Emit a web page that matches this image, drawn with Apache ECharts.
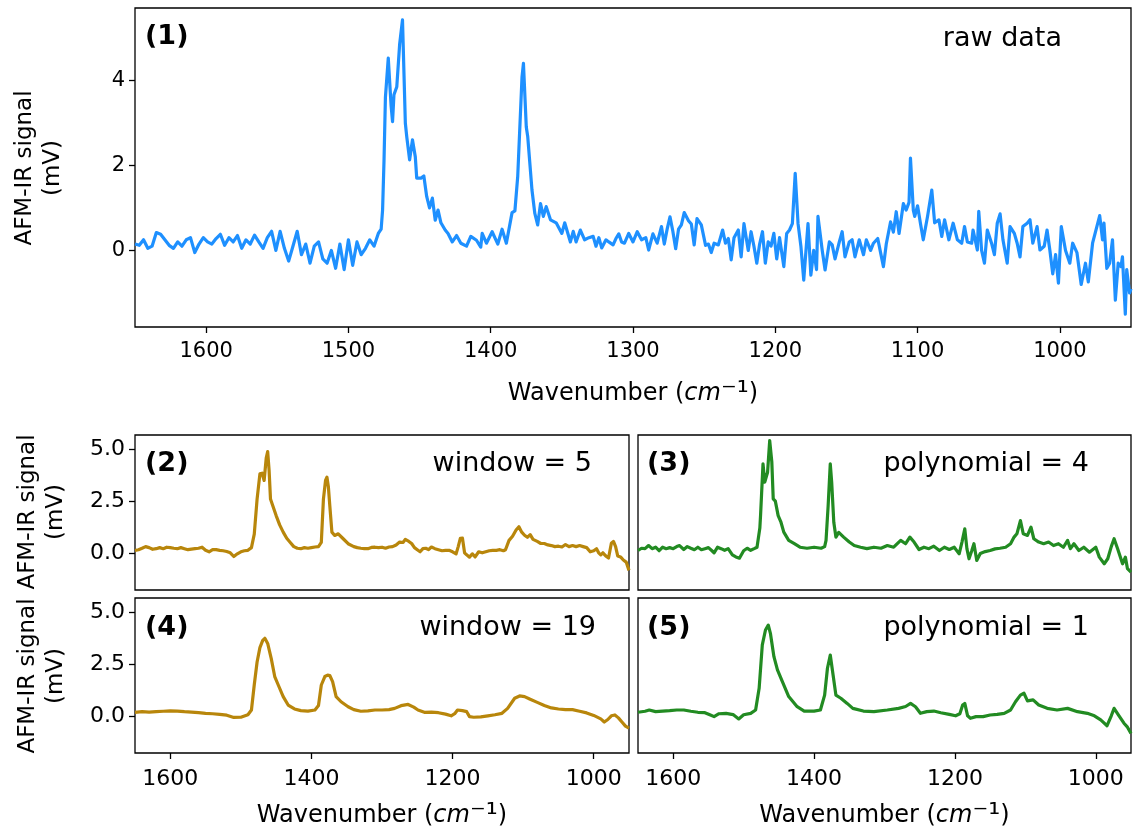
<!DOCTYPE html>
<html><head><meta charset="utf-8">
<script src="https://cdn.jsdelivr.net/npm/echarts@6.0.0/dist/echarts.min.js"></script>
<style>html,body{margin:0;padding:0;background:#fff}#c{width:1134px;height:836px}</style>
</head><body><div id="c"></div>
<script>
// ---------- data (wavenumber cm^-1, signal mV) ----------
const rawData = [
[1650,0.15],[1647,0.12],[1644,0.25],[1641,0.05],[1638,0.1],[1635,0.42],[1632,0.38],[1629,0.25],[1626,0.12],[1623,0.05],
[1620,0.2],[1617,0.1],[1614,0.25],[1611,0.3],[1608,-0.05],[1605,0.15],[1602,0.3],[1599,0.2],[1596,0.15],[1593,0.28],
[1590,0.38],[1587,0.12],[1584,0.3],[1581,0.2],[1578,0.35],[1575,0.05],[1572,0.25],[1569,0.15],[1566,0.36],[1563,0.2],
[1560,0.05],[1557,0.3],[1554,0.45],[1551,0.0],[1548,0.45],[1545,0.05],[1542,-0.25],[1539,0.1],[1536,0.45],[1533,-0.1],
[1530,0.15],[1527,-0.3],[1524,0.1],[1521,0.2],[1518,-0.2],[1515,-0.3],[1512,0.0],[1509,-0.42],[1506,0.15],[1503,-0.45],
[1500,0.25],[1497,-0.35],[1494,0.2],[1491,-0.1],[1488,0.05],[1485,0.25],[1482,0.1],[1479,0.4],[1477,0.5],[1476,0.95],
[1475,2.1],[1474,3.6],[1472,4.52],[1470,3.4],[1469,3.03],[1468,3.66],[1466,3.85],[1464,4.85],[1462,5.42],[1460,2.99],
[1459,2.67],[1457,2.13],[1455,2.6],[1453,2.2],[1452,1.7],[1449,1.7],[1447,1.75],[1445,1.27],[1443,1.0],[1441,1.23],
[1439,0.71],[1437,0.95],[1435,0.65],[1432,0.48],[1430,0.4],[1427,0.2],[1424,0.35],[1421,0.17],[1417,0.1],[1414,0.33],
[1410,0.24],[1407,0.08],[1406,0.4],[1403,0.17],[1399,0.44],[1395,0.15],[1392,0.5],[1389,0.17],[1385,0.89],[1383,0.93],
[1381,1.75],[1378,4.08],[1377,4.4],[1375,2.9],[1374,2.68],[1371,1.42],[1369,0.87],[1367,0.6],[1365,1.1],[1363,0.8],
[1361,1.03],[1358,0.72],[1354,0.65],[1350,0.4],[1348,0.65],[1344,0.2],[1342,0.45],[1340,0.2],[1337,0.48],[1334,0.25],
[1331,0.3],[1328,0.33],[1326,0.1],[1324,0.3],[1322,0.06],[1319,0.25],[1317,0.2],[1314,0.13],[1312,0.28],[1310,0.39],
[1308,0.2],[1306,0.17],[1303,0.4],[1300,0.2],[1297,0.44],[1294,0.25],[1291,0.3],[1289,0.01],[1286,0.39],[1283,0.17],
[1280,0.56],[1278,0.15],[1276,0.5],[1274,0.79],[1272,0.45],[1270,0.04],[1268,0.5],[1266,0.6],[1264,0.89],[1261,0.7],
[1259,0.62],[1257,0.13],[1255,0.75],[1252,0.6],[1249,0.12],[1247,0.15],[1245,-0.05],[1243,0.17],[1240,0.13],[1237,0.48],
[1235,0.17],[1233,0.28],[1231,-0.22],[1229,0.3],[1226,0.48],[1224,-0.15],[1222,0.63],[1219,0.0],[1217,0.44],[1215,0.1],
[1213,-0.3],[1211,0.15],[1209,0.44],[1207,-0.3],[1205,0.2],[1203,0.1],[1201,0.4],[1199,-0.2],[1197,0.3],[1194,-0.38],
[1192,0.4],[1190,0.48],[1188,0.63],[1186,1.81],[1184,0.63],[1182,0.1],[1180,-0.7],[1177,0.63],[1175,-0.58],[1173,0.0],
[1171,-0.45],[1170,0.8],[1167,0.0],[1165,-0.46],[1162,0.2],[1160,0.13],[1158,-0.2],[1155,0.2],[1153,0.44],[1151,-0.15],
[1148,0.2],[1146,0.25],[1144,-0.15],[1141,0.25],[1138,-0.1],[1136,0.25],[1133,0.0],[1131,0.17],[1128,0.28],[1126,-0.05],
[1124,-0.38],[1122,0.15],[1119,0.67],[1117,0.43],[1115,0.91],[1113,0.4],[1110,1.1],[1108,0.95],[1106,1.13],[1105,2.17],
[1103,0.95],[1102,0.8],[1100,1.05],[1098,0.64],[1096,0.25],[1093,0.8],[1090,1.42],[1088,0.65],[1085,0.72],[1083,0.33],
[1081,0.72],[1078,0.25],[1075,0.64],[1072,0.25],[1069,0.17],[1067,0.56],[1065,0.2],[1062,0.17],[1061,0.48],[1058,0.01],
[1057,0.92],[1055,0.0],[1053,-0.3],[1051,0.48],[1048,0.17],[1046,-0.1],[1044,0.64],[1042,0.86],[1040,0.25],[1037,-0.3],
[1035,0.56],[1032,0.4],[1030,0.17],[1028,-0.15],[1026,0.56],[1023,0.64],[1021,0.72],[1019,0.17],[1016,0.56],[1014,0.01],
[1011,0.1],[1009,0.48],[1007,0.0],[1005,-0.55],[1003,-0.1],[1001,-0.77],[999,0.56],[996,0.0],[993,-0.3],[991,0.17],
[988,-0.05],[985,-0.8],[982,-0.3],[980,-0.74],[977,0.17],[974,0.56],[972,0.82],[970,0.25],[969,0.64],[967,-0.42],
[965,-0.3],[963,0.25],[961,-1.17],[959,-0.3],[957,-0.38],[956,-0.15],[954,-1.5],[953,-0.45],[951,-1.0],[950,-0.9]
];
const window5 = [
[1650,0.11],[1645,0.15],[1640,0.22],[1635,0.3],[1630,0.25],[1625,0.17],[1620,0.2],[1615,0.25],[1610,0.2],[1605,0.27],
[1600,0.25],[1595,0.22],[1590,0.2],[1585,0.25],[1580,0.2],[1575,0.15],[1570,0.18],[1565,0.2],[1560,0.22],[1555,0.27],
[1550,0.12],[1545,0.05],[1540,0.15],[1535,0.15],[1530,0.12],[1525,0.1],[1520,0.06],[1515,0.0],[1510,-0.18],[1505,-0.05],
[1500,0.05],[1495,0.1],[1490,0.12],[1485,0.25],[1481,0.9],[1477,2.6],[1473,3.82],[1470,3.85],[1467,3.5],[1464,4.6],
[1462,4.9],[1460,4.0],[1458,2.6],[1455,2.3],[1450,1.8],[1445,1.35],[1440,1.0],[1435,0.7],[1430,0.5],[1425,0.3],
[1420,0.22],[1415,0.2],[1410,0.25],[1405,0.22],[1400,0.25],[1395,0.28],[1390,0.3],[1386,0.5],[1383,2.6],[1380,3.5],
[1378,3.66],[1376,3.2],[1374,2.29],[1371,1.0],[1367,0.84],[1362,0.92],[1355,0.68],[1348,0.44],[1340,0.3],[1335,0.25],
[1330,0.22],[1325,0.2],[1320,0.2],[1315,0.26],[1310,0.27],[1305,0.25],[1300,0.27],[1295,0.22],[1290,0.28],[1285,0.3],
[1280,0.38],[1275,0.52],[1270,0.5],[1267,0.65],[1262,0.55],[1258,0.45],[1254,0.25],[1250,0.15],[1246,0.05],[1242,0.2],
[1238,0.22],[1234,0.15],[1230,0.28],[1225,0.2],[1220,0.15],[1215,0.1],[1210,0.12],[1205,0.12],[1200,0.05],[1195,-0.05],
[1192,0.3],[1189,0.7],[1186,0.71],[1183,0.0],[1180,-0.1],[1176,-0.21],[1172,-0.05],[1168,-0.2],[1163,0.05],[1158,0.0],
[1153,0.05],[1148,0.1],[1143,0.12],[1138,0.12],[1133,0.15],[1128,0.1],[1125,0.15],[1120,0.6],[1115,0.8],[1110,1.1],
[1106,1.26],[1102,1.0],[1098,0.85],[1094,0.75],[1090,0.88],[1086,0.65],[1080,0.55],[1075,0.45],[1070,0.45],[1065,0.38],
[1060,0.35],[1055,0.3],[1050,0.32],[1045,0.28],[1040,0.4],[1035,0.3],[1030,0.35],[1025,0.3],[1020,0.35],[1015,0.3],
[1010,0.25],[1005,0.05],[1000,0.1],[996,0.2],[993,0.0],[990,-0.1],[987,0.0],[983,-0.15],[979,-0.25],[975,0.46],
[972,0.55],[969,0.3],[966,-0.15],[962,-0.2],[958,-0.35],[954,-0.45],[950,-0.85]
];
const window19 = [
[1650,0.17],[1640,0.2],[1630,0.18],[1620,0.2],[1610,0.22],[1600,0.24],[1590,0.23],[1580,0.2],[1570,0.18],[1560,0.15],
[1550,0.12],[1540,0.1],[1530,0.07],[1520,0.03],[1510,-0.08],[1500,-0.07],[1490,0.05],[1485,0.28],[1481,1.5],[1477,2.6],
[1473,3.3],[1469,3.65],[1466,3.75],[1462,3.5],[1457,2.78],[1452,1.9],[1447,1.49],[1440,0.93],[1433,0.52],[1424,0.33],
[1415,0.25],[1405,0.23],[1395,0.28],[1390,0.5],[1386,1.49],[1381,1.9],[1377,1.97],[1374,1.95],[1370,1.65],[1365,0.93],
[1358,0.68],[1348,0.44],[1340,0.3],[1330,0.22],[1320,0.24],[1310,0.28],[1300,0.28],[1290,0.3],[1282,0.36],[1273,0.49],
[1263,0.55],[1255,0.42],[1249,0.28],[1240,0.17],[1230,0.18],[1220,0.15],[1210,0.08],[1202,0.0],[1197,0.1],[1193,0.28],
[1186,0.25],[1180,0.2],[1176,-0.04],[1170,-0.07],[1160,-0.05],[1150,0.0],[1140,0.05],[1130,0.12],[1122,0.36],[1112,0.85],
[1105,0.96],[1098,0.93],[1090,0.8],[1080,0.65],[1070,0.5],[1060,0.38],[1050,0.33],[1040,0.3],[1030,0.3],[1020,0.22],
[1010,0.14],[1000,0.02],[990,-0.15],[985,-0.3],[980,-0.18],[975,0.0],[970,0.04],[965,-0.1],[960,-0.3],[955,-0.5],[950,-0.6]
];
const poly4 = [
[1650,0.11],[1645,0.22],[1640,0.2],[1635,0.35],[1630,0.2],[1625,0.27],[1620,0.1],[1615,0.27],[1610,0.2],[1605,0.25],
[1600,0.2],[1595,0.3],[1591,0.35],[1585,0.16],[1580,0.3],[1575,0.22],[1570,0.15],[1565,0.27],[1560,0.15],[1555,0.2],
[1550,0.25],[1545,0.1],[1542,0.0],[1537,0.27],[1532,0.2],[1527,0.12],[1522,0.2],[1516,-0.1],[1511,-0.2],[1506,-0.26],
[1500,0.1],[1495,0.22],[1490,0.12],[1485,0.2],[1481,0.27],[1477,1.2],[1476,1.8],[1472.5,4.3],[1470,3.42],[1466,3.9],
[1463,5.43],[1460,4.4],[1458,2.61],[1455,2.5],[1451,1.8],[1447,1.48],[1443,1.0],[1436,0.6],[1428,0.44],[1420,0.27],
[1410,0.22],[1400,0.27],[1390,0.22],[1385,0.3],[1383,0.6],[1380,2.29],[1377,4.3],[1375,3.42],[1372,1.48],[1369,0.76],
[1365,0.99],[1358,0.76],[1350,0.52],[1343,0.35],[1334,0.27],[1325,0.2],[1315,0.27],[1305,0.22],[1296,0.35],[1287,0.27],
[1277,0.6],[1270,0.44],[1264,0.76],[1258,0.52],[1251,0.16],[1244,0.27],[1237,0.2],[1230,0.32],[1222,0.11],[1215,0.27],
[1208,0.16],[1201,0.27],[1194,-0.05],[1190,0.52],[1186,1.16],[1183,0.2],[1180,-0.29],[1176,0.11],[1173,0.44],[1169,-0.37],
[1164,-0.03],[1157,0.06],[1150,0.11],[1143,0.19],[1136,0.22],[1128,0.27],[1121,0.44],[1116,0.76],[1112,0.92],[1107,1.56],
[1103,0.92],[1097,0.84],[1092,1.24],[1088,0.68],[1081,0.52],[1074,0.44],[1067,0.52],[1060,0.35],[1053,0.44],[1046,0.27],
[1040,0.6],[1036,0.2],[1031,0.44],[1024,0.11],[1017,0.27],[1009,0.03],[1000,0.27],[995,-0.21],[988,-0.53],[983,-0.29],
[978,0.3],[974,0.68],[969,0.2],[962,-0.53],[958,-0.21],[955,-0.77],[950,-0.94]
];
const poly1 = [
[1650,0.17],[1640,0.22],[1634,0.28],[1625,0.2],[1615,0.23],[1605,0.25],[1595,0.28],[1585,0.28],[1575,0.22],[1565,0.17],
[1555,0.15],[1548,0.05],[1542,-0.04],[1535,0.1],[1525,0.12],[1515,0.06],[1507,-0.15],[1500,0.05],[1490,0.12],[1483,0.28],
[1478,1.33],[1473.5,3.43],[1469,4.15],[1465,4.39],[1462,3.99],[1457,2.86],[1452,2.22],[1445,1.65],[1436,0.93],[1424,0.44],
[1414,0.23],[1400,0.23],[1391,0.28],[1385,1.0],[1381,2.3],[1377,2.94],[1373,1.97],[1369,1.0],[1362,0.85],[1353,0.6],
[1345,0.36],[1330,0.23],[1315,0.2],[1296,0.28],[1280,0.36],[1270,0.45],[1263,0.6],[1256,0.44],[1249,0.12],[1240,0.2],
[1230,0.23],[1220,0.15],[1208,0.07],[1199,0.0],[1193,0.1],[1189,0.52],[1186,0.6],[1182,0.0],[1178,-0.12],[1170,-0.04],
[1160,-0.04],[1150,0.04],[1140,0.07],[1130,0.12],[1121,0.28],[1114,0.68],[1107,1.0],[1102,1.09],[1097,0.72],[1089,0.77],
[1081,0.52],[1069,0.36],[1055,0.28],[1040,0.36],[1026,0.2],[1012,0.12],[1002,0.0],[993,-0.2],[984,-0.48],[978,0.0],
[974,0.36],[967,0.0],[960,-0.36],[955,-0.55],[950,-0.85]
];
const xTicksTop = [1000,1100,1200,1300,1400,1500,1600];
const xTicksBottom = [1000,1200,1400,1600];
const yTicksTop = [0,2,4];
const yTicksBottom = [0,2.5,5];
const panelTags = ['(1)','(2)','(3)','(4)','(5)'];
const panelNotes = ['raw data','window = 5','polynomial = 4','window = 19','polynomial = 1'];

// ---------- chart ----------
const FONT = '"DejaVu Sans", sans-serif';
const BLUE = '#1e90ff', GOLD = '#b8860b', GREEN = '#228b22';
const grids = [
  {left:135, top:8,   width:996, height:319},
  {left:135, top:435, width:494, height:155},
  {left:638, top:435, width:493, height:155},
  {left:135, top:598, width:494, height:155},
  {left:638, top:598, width:493, height:155}
].map(g => Object.assign({show:true, borderColor:'#000', borderWidth:1.3, backgroundColor:'#fff'}, g));

const xName = {
  name: 'Wavenumber ({i|cm}{s|⁻¹})',
  nameLocation: 'middle',
  nameTextStyle: {fontFamily: FONT, fontSize: 24, color: '#000',
    rich: {i: {fontFamily: FONT, fontSize: 24, fontStyle: 'italic', color:'#000'},
           s: {fontFamily: FONT, fontSize: 30, color:'#000'}}}
};
function mkX(gi, ticks, showTicks, showLabels, withName, gap, fs, margin) {
  const a = {
    type:'value', gridIndex:gi, min:950, max:1650, inverse:true,
    axisLine:{show:false, onZero:false}, splitLine:{show:false},
    axisTick:{show:showTicks, inside:false, length:6, lineStyle:{color:'#000', width:1.3}, customValues:ticks},
    axisLabel:{show:showLabels, customValues:ticks, margin:margin, color:'#000', fontFamily:FONT, fontSize:fs,
               formatter: v => String(v)}
  };
  if (withName) Object.assign(a, xName, {nameGap: gap});
  return a;
}
function mkY(gi, ticks, showTicks, showLabels, fs, fmt) {
  return {
    type:'value', gridIndex:gi, min:-1.8, max:5.7,
    axisLine:{show:false, onZero:false}, splitLine:{show:false},
    axisTick:{show:showTicks, inside:false, length:6, lineStyle:{color:'#000', width:1.3}, customValues:ticks},
    axisLabel:{show:showLabels, customValues:ticks, margin:10, color:'#000', fontFamily:FONT, fontSize:fs, formatter:fmt}
  };
}
const fmt1 = v => Number(v).toFixed(1);
const fmt0 = v => String(v);

const xAxes = [
  mkX(0, xTicksTop, true, true, true, 52, 21, 14),
  mkX(1, xTicksBottom, false, false, false, 0, 22, 14),
  mkX(2, xTicksBottom, false, false, false, 0, 22, 14),
  mkX(3, xTicksBottom, true, true, true, 48, 22, 15),
  mkX(4, xTicksBottom, true, true, true, 48, 22, 15)
];
const yAxes = [
  mkY(0, yTicksTop, true, true, 21, fmt0),
  mkY(1, yTicksBottom, true, true, 22, fmt1),
  mkY(2, yTicksBottom, false, false, 22, fmt1),
  mkY(3, yTicksBottom, true, true, 22, fmt1),
  mkY(4, yTicksBottom, false, false, 22, fmt1)
];
function mkSeries(i, data, color, w) {
  return {type:'line', xAxisIndex:i, yAxisIndex:i, data:data, showSymbol:false, symbol:'none',
          lineStyle:{color:color, width:w, join:'round'}, clip:true, silent:true};
}
const series = [
  mkSeries(0, rawData, BLUE, 3.2),
  mkSeries(1, window5, GOLD, 3.2),
  mkSeries(2, poly4, GREEN, 3.2),
  mkSeries(3, window19, GOLD, 3.2),
  mkSeries(4, poly1, GREEN, 3.2)
];

function txt(x, y, text, bold, align) {
  return {type:'text', x:x, y:y, z:100, silent:true,
    style:{text:text, x:0, y:0, fill:'#000', textAlign:align, textVerticalAlign:'middle',
           font:(bold ? 'bold ' : '') + '27px ' + FONT}};
}
function ylab(x, y) {
  return {type:'text', x:x, y:y, rotation:Math.PI/2, z:100, silent:true,
    style:{text:'AFM-IR signal\n(mV)', x:0, y:0, fill:'#000', textAlign:'center', textVerticalAlign:'middle',
           font:'23px ' + FONT, lineHeight:28}};
}
const graphic = [
  txt(145, 37, panelTags[0], true, 'left'),
  txt(1062, 39, panelNotes[0], false, 'right'),
  txt(145, 464, panelTags[1], true, 'left'),
  txt(592, 464, panelNotes[1], false, 'right'),
  txt(647, 464, panelTags[2], true, 'left'),
  txt(1089, 464, panelNotes[2], false, 'right'),
  txt(145, 628, panelTags[3], true, 'left'),
  txt(596, 628, panelNotes[3], false, 'right'),
  txt(647, 628, panelTags[4], true, 'left'),
  txt(1089, 628, panelNotes[4], false, 'right'),
  ylab(39, 168),
  ylab(42, 512),
  ylab(42, 676)
];

const chart = echarts.init(document.getElementById('c'), null, {renderer:'canvas'});
chart.setOption({
  animation:false, backgroundColor:'#fff',
  grid:grids, xAxis:xAxes, yAxis:yAxes, series:series, graphic:graphic
});
</script></body></html>
